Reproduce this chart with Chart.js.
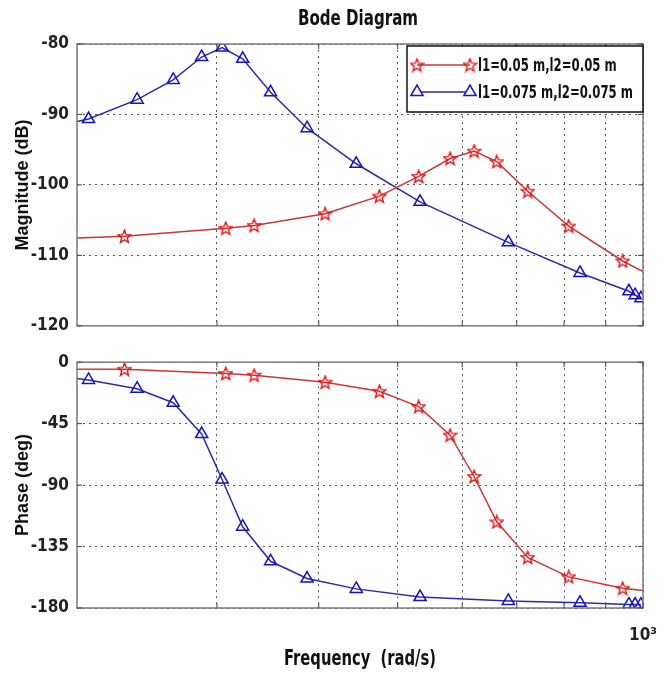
<!DOCTYPE html>
<html>
<head>
<meta charset="utf-8">
<title>Bode Diagram</title>
<script src="https://cdn.jsdelivr.net/npm/chart.js@4.4.0/dist/chart.umd.min.js"></script>
<style>
  body { margin: 0; background: #fff; }
  #wrap { position: relative; width: 667px; height: 684px; }
  canvas { position: absolute; left: 0; }
  #magChart { top: 0; }
  #phaseChart { top: 344px; }
</style>
</head>
<body>
<div id="wrap">
  <canvas id="magChart" width="667" height="344"></canvas>
  <canvas id="phaseChart" width="667" height="340"></canvas>
</div>
<script>
// values (rad/s, dB, deg)
const freqA  = [202, 231, 307.6, 333.2, 407.2, 474.8, 530.6, 579.8, 620.4, 661.5, 722, 810.6, 944.3, 1000];
const magA   = [-107.55, -107.3, -106.15, -105.75, -104.1, -101.6, -98.8, -96.25, -95.2, -96.7, -100.9, -105.85, -110.8, -112.3];
const phaseA = [-5.2, -5.2, -8.3, -9.5, -14.7, -21.3, -32.5, -53.4, -83.7, -116.9, -143, -157.2, -165.5, -167.2];

const freqB  = [202, 208.7, 239.4, 265.1, 287.3, 304.4, 322.6, 349.1, 387, 444.7, 532.6, 683.5, 837, 961, 978, 994];
const magB   = [-91, -90.65, -87.9, -85.1, -81.85, -80.5, -82.1, -86.85, -91.95, -97, -102.4, -108.15, -112.5, -115.1, -115.65, -116.1];
const phaseB = [-11.9, -13, -19.4, -29.7, -52.6, -85.9, -120.5, -145.8, -158.4, -166, -172, -174.8, -176.2, -177.4, -177.5, -177.6];

const labelA = "l1=0.05 m,l2=0.05 m";
const labelB = "l1=0.075 m,l2=0.075 m";

const freqTicks  = [300, 400, 500, 600, 700, 800, 900, 1000];
const magTicks   = [-120, -110, -100, -90, -80];
const phaseTicks = [-180, -135, -90, -45, 0];

const narrow = "'Liberation Sans Narrow', 'DejaVu Sans Condensed', 'Arial Narrow', sans-serif";
const wide = "'Liberation Sans', Arial, sans-serif";
const redLine = "#cc3535", redMark = "#e01515";
const blueLine = "#2b2ba5", blueMark = "#1414c0";

// matlab style pentagram marker
function makeStar(color) {
    const c = document.createElement("canvas");
    c.width = 15; c.height = 15;
    const g = c.getContext("2d");
    g.strokeStyle = color;
    g.lineWidth = 1.4;
    g.beginPath();
    for (let i = 0; i < 10; i++) {
        const r = i % 2 ? 2.9 : 6.8;
        const a = -Math.PI / 2 + i * Math.PI / 5;
        const px = 7.5 + r * Math.cos(a), py = 8 + r * Math.sin(a);
        if (i) g.lineTo(px, py); else g.moveTo(px, py);
    }
    g.closePath();
    g.stroke();
    return c;
}
const star = makeStar(redMark);

const isEdge = f => f === 202 || f === 1000;

function series(label, freqs, vals, kind) {
    const red = kind === "red";
    return {
        label: label,
        data: freqs.map((f, i) => ({x: f, y: vals[i]})),
        borderColor: red ? redLine : blueLine,
        borderWidth: 1.5,
        tension: 0,
        pointStyle: red ? star : "triangle",
        pointRadius: freqs.map(f => isEdge(f) ? 0 : 7),
        pointBorderColor: red ? redMark : blueMark,
        pointBackgroundColor: "rgba(255,255,255,0)",
        pointBorderWidth: 1.5
    };
}

// tall condensed text like the matlab figure; squeezed horizontally to a width
function squeezed(ctx, text, x, y, size, width, align) {
    ctx.save();
    ctx.font = "bold " + size + "px " + narrow;
    const sx = Math.min(1, width / ctx.measureText(text).width);
    ctx.translate(x, y);
    ctx.scale(sx, 1);
    ctx.textAlign = align || "center";
    ctx.textBaseline = "middle";
    ctx.fillStyle = "#111";
    ctx.fillText(text, 0, 0);
    ctx.restore();
    return sx;
}

const axesBox = {
    id: "axesBox",
    afterDatasetsDraw(chart) {
        const {ctx, chartArea: a, scales} = chart;
        ctx.save();
        ctx.strokeStyle = "#7a7a7a";
        ctx.lineWidth = 1.5;
        ctx.strokeRect(a.left, a.top, a.right - a.left, a.bottom - a.top);
        ctx.strokeStyle = "#444";
        ctx.lineWidth = 1;
        ctx.beginPath();
        scales.x.ticks.forEach(t => {
            const px = scales.x.getPixelForValue(t.value);
            ctx.moveTo(px, a.bottom); ctx.lineTo(px, a.bottom - 5);
            ctx.moveTo(px, a.top); ctx.lineTo(px, a.top + 5);
        });
        scales.y.ticks.forEach(t => {
            const py = scales.y.getPixelForValue(t.value);
            ctx.moveTo(a.left, py); ctx.lineTo(a.left + 5, py);
            ctx.moveTo(a.right, py); ctx.lineTo(a.right - 5, py);
        });
        ctx.stroke();
        ctx.restore();
    }
};

const captions = {
    id: "captions",
    afterDraw(chart, args, opts) {
        (opts.items || []).forEach(c => squeezed(chart.ctx, c.text, c.x, c.y, c.size, c.width));
    }
};

const legendBox = {
    id: "legendBox",
    afterDraw(chart, args, opts) {
        if (!opts.show) return;
        const {ctx, chartArea: a} = chart;
        const x0 = a.right - 236, y0 = a.top + 2, w = 236, h = 66;
        ctx.save();
        ctx.fillStyle = "#fff";
        ctx.fillRect(x0, y0, w, h);
        ctx.strokeStyle = "#111";
        ctx.lineWidth = 1.5;
        ctx.strokeRect(x0, y0, w, h);
        // one squeeze factor for both rows, fitted to the longer label
        ctx.font = "bold 18px " + narrow;
        const longest = Math.max(...chart.data.datasets.map(ds => ctx.measureText(ds.label).width));
        const k = Math.min(1, 155 / longest);
        chart.data.datasets.forEach((ds, i) => {
            const y = y0 + 19 + i * 27;
            ctx.strokeStyle = ds.borderColor;
            ctx.lineWidth = 1.5;
            ctx.beginPath();
            ctx.moveTo(x0 + 10, y); ctx.lineTo(x0 + 63, y);
            ctx.stroke();
            ctx.strokeStyle = ds.pointBorderColor;
            ctx.fillStyle = "#fff";
            [x0 + 10, x0 + 63].forEach(px => {
                Chart.helpers.drawPoint(ctx, {pointStyle: ds.pointStyle, rotation: 0, radius: 7, borderWidth: 1.5}, px, y);
            });
            ctx.font = "bold 18px " + narrow;
            squeezed(ctx, ds.label, x0 + 71, y + 1, 18, ctx.measureText(ds.label).width * k, "left");
        });
        ctx.restore();
    }
};

function freqAxis(showLabels) {
    return {
        type: "logarithmic",
        min: 202,
        max: 1000,
        afterBuildTicks: s => { s.ticks = freqTicks.map(v => ({value: v})); },
        afterFit: s => { s.height = showLabels ? 76 : 0; },
        grid: {color: "#555", lineWidth: 1, drawTicks: false},
        border: {display: false, dash: [2, 4]},
        ticks: {
            display: showLabels,
            autoSkip: false,
            maxRotation: 0,
            padding: 6,
            color: "#222",
            font: {family: narrow, size: 17, weight: "bold", lineHeight: "44px"},
            callback: v => v === 1000 ? "10\u00b3" : ""
        }
    };
}

function valueAxis(lo, hi, ticks, title) {
    return {
        min: lo,
        max: hi,
        afterBuildTicks: s => { s.ticks = ticks.map(v => ({value: v})); },
        afterFit: s => { s.width = 77; },
        grid: {color: "#555", lineWidth: 1, drawTicks: false},
        border: {display: false, dash: [2, 4]},
        ticks: {color: "#222", padding: 8, font: {family: narrow, size: 17, weight: "bold"}},
        title: {
            display: true,
            text: title,
            color: "#111",
            font: {family: wide, size: 18, weight: "bold"},
            padding: {top: 12, bottom: 0}
        }
    };
}

new Chart(document.getElementById("magChart"), {
    type: "line",
    data: {
        datasets: [
            series(labelA, freqA, magA, "red"),
            series(labelB, freqB, magB, "blue")
        ]
    },
    options: {
        responsive: false,
        animation: false,
        layout: {padding: {left: 0, right: 24, top: 44, bottom: 12}},
        plugins: {
            legend: {display: false},
            tooltip: {enabled: false},
            captions: {items: [{text: "Bode Diagram", x: 358, y: 20, size: 21, width: 120}]},
            legendBox: {show: true}
        },
        scales: {
            x: freqAxis(false),
            y: valueAxis(-120, -80, magTicks, "Magnitude (dB)")
        }
    },
    plugins: [axesBox, legendBox, captions]
});

new Chart(document.getElementById("phaseChart"), {
    type: "line",
    data: {
        datasets: [
            series(labelA, freqA, phaseA, "red"),
            series(labelB, freqB, phaseB, "blue")
        ]
    },
    options: {
        responsive: false,
        animation: false,
        layout: {padding: {left: 0, right: 24, top: 11, bottom: 0}},
        plugins: {
            legend: {display: false},
            tooltip: {enabled: false},
            captions: {items: [{text: "Frequency  (rad/s)", x: 360, y: 316, size: 21, width: 152}]},
            legendBox: {show: false}
        },
        scales: {
            x: freqAxis(true),
            y: valueAxis(-180, 0, phaseTicks, "Phase (deg)")
        }
    },
    plugins: [axesBox, legendBox, captions]
});
</script>
</body>
</html>
